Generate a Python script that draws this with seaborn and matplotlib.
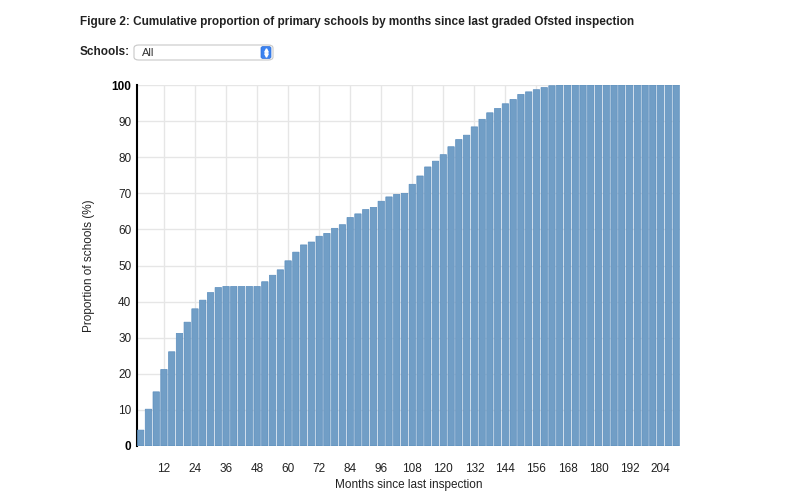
import numpy as np
import pandas as pd
import matplotlib
matplotlib.use("Agg")
import matplotlib.pyplot as plt
import seaborn as sns
from matplotlib.patches import FancyBboxPatch
from matplotlib.lines import Line2D

# months since last graded inspection (3-month bands)
months = list(range(3, 211, 3))

# cumulative proportion of schools (%)
proportion = [
    4.4, 10.2, 15.0, 21.2, 26.1, 31.2, 34.3, 38.0, 40.4, 42.5,
    43.9, 44.2, 44.2, 44.2, 44.2, 44.2, 45.5, 47.3, 48.8, 51.3,
    53.7, 55.7, 56.5, 58.1, 58.9, 60.3, 61.3, 63.3, 64.3, 65.5,
    66.1, 67.8, 69.0, 69.7, 70.0, 72.5, 74.8, 77.3, 78.9, 80.7,
    82.9, 84.9, 86.1, 88.4, 90.5, 92.3, 93.5, 94.8, 96.0, 97.4,
    98.1, 98.7, 99.3, 99.8, 100, 100, 100, 100, 100, 100,
    100, 100, 100, 100, 100, 100, 100, 100, 100, 100,
]

x_ticks = list(range(12, 205, 12))
y_ticks = list(range(0, 101, 10))

TITLE = "Figure 2: Cumulative proportion of primary schools by months since last graded Ofsted inspection"
BAR_FILL = "#719ec6"
BAR_EDGE = "#5a8dbd"

sns.set_theme(style="whitegrid")
plt.rcParams["font.family"] = ["Liberation Sans", "DejaVu Sans"]

df = pd.DataFrame({"month": months, "pct": proportion})

fig = plt.figure(figsize=(8, 5), dpi=100)
ax = fig.add_axes([0.171, 0.108, 0.679, 0.722])

sns.barplot(data=df, x="month", y="pct", native_scale=True, width=0.82,
            color=BAR_FILL, saturation=1, edgecolor=BAR_EDGE, linewidth=0.5,
            ax=ax, zorder=3)
# keep gaps between bars even instead of pixel-snapped
for bar in ax.patches:
    bar.set_snap(False)

ax.set_xlim(1.5, 211.5)
ax.set_ylim(0, 100)
ax.set_xticks(x_ticks)
ax.set_yticks(y_ticks)
ax.set_xticklabels([str(t) for t in x_ticks])
ax.set_yticklabels([str(t) for t in y_ticks])
ax.grid(True, color="#e6e6e6", linewidth=1)
ax.set_axisbelow(True)
for side in ["top", "right", "bottom"]:
    ax.spines[side].set_visible(False)
ax.spines["left"].set_color("black")
ax.spines["left"].set_linewidth(1.5)
ax.tick_params(axis="both", length=0, labelsize=8.5, colors="#222222")
ax.tick_params(axis="x", pad=12)
ax.tick_params(axis="y", pad=4)
for lbl in ax.get_yticklabels():
    if lbl.get_text() in ("0", "100"):
        lbl.set_fontweight("bold")
        lbl.set_color("black")

ax.set_xlabel("Months since last inspection", fontsize=8.5, color="#222222", labelpad=3)
ax.set_ylabel("Proportion of schools (%)", fontsize=8.5, color="#222222", labelpad=12)

# header text
fig.text(80 / 800, 1 - 22 / 500, TITLE, fontsize=8.5, fontweight="bold",
         color="#222222", va="center", ha="left")
fig.text(80 / 800, 1 - 52 / 500, "Schools:", fontsize=8.5, fontweight="bold",
         color="#222222", va="center", ha="left")

# dropdown box
box = FancyBboxPatch((134 / 800, 1 - 60 / 500), 139 / 800, 15 / 500,
                     boxstyle="round,pad=0,rounding_size=0.006",
                     transform=fig.transFigure, facecolor="white",
                     edgecolor="#c8c8c8", linewidth=0.8)
fig.add_artist(box)
fig.text(142 / 800, 1 - 52.5 / 500, "All", fontsize=8, color="#333333",
         va="center", ha="left")
icon = FancyBboxPatch((261 / 800, 1 - 58.5 / 500), 10 / 800, 12 / 500,
                      boxstyle="round,pad=0,rounding_size=0.003",
                      transform=fig.transFigure, facecolor="#3b82f0",
                      edgecolor="#2f6fd8", linewidth=0.5)
fig.add_artist(icon)
fig.add_artist(Line2D([266 / 800], [1 - 50 / 500], marker="^", markersize=2.5,
                      color="white", transform=fig.transFigure))
fig.add_artist(Line2D([266 / 800], [1 - 55 / 500], marker="v", markersize=2.5,
                      color="white", transform=fig.transFigure))

fig.savefig("out.png", dpi=100, facecolor="white")
